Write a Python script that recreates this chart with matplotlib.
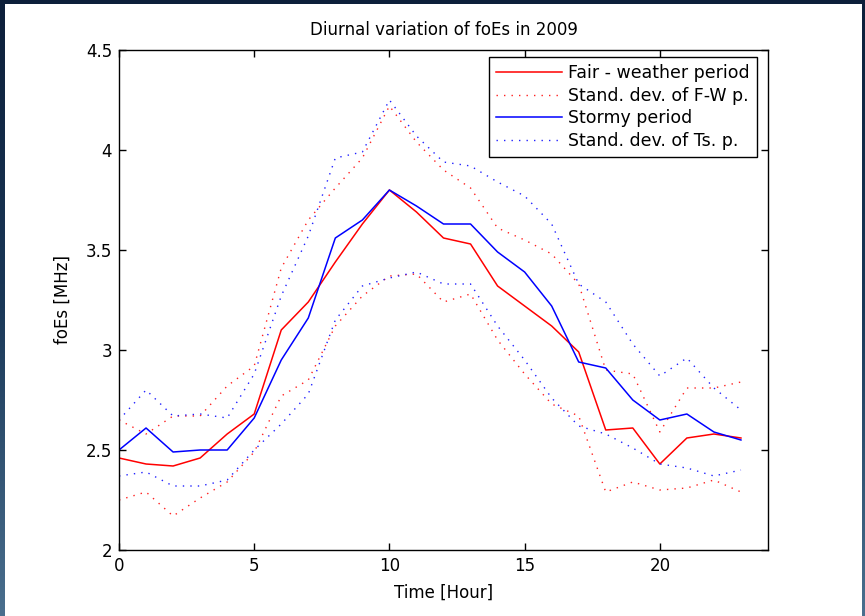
import matplotlib
matplotlib.use("Agg")
import matplotlib.pyplot as plt
import matplotlib.ticker as ticker
import numpy as np

#-------------------------------------------------------------------------------
# values (foEs in MHz, one value per hour)
hours = list(range(24))

fair_mean = [2.46, 2.43, 2.42, 2.46, 2.58, 2.68, 3.10, 3.24, 3.44, 3.63, 3.80, 3.69,
             3.56, 3.53, 3.32, 3.22, 3.12, 2.99, 2.60, 2.61, 2.43, 2.56, 2.58, 2.56]
fair_upper = [2.65, 2.58, 2.67, 2.67, 2.82, 2.92, 3.41, 3.65, 3.81, 3.96, 4.22, 4.04,
              3.90, 3.81, 3.61, 3.55, 3.48, 3.33, 2.90, 2.88, 2.59, 2.81, 2.81, 2.84]
fair_lower = [2.25, 2.29, 2.17, 2.26, 2.34, 2.49, 2.77, 2.85, 3.12, 3.27, 3.37, 3.38,
              3.24, 3.28, 3.05, 2.88, 2.73, 2.67, 2.29, 2.34, 2.30, 2.31, 2.35, 2.29]

storm_mean = [2.50, 2.61, 2.49, 2.50, 2.50, 2.66, 2.95, 3.16, 3.56, 3.65, 3.80, 3.72,
              3.63, 3.63, 3.49, 3.39, 3.22, 2.94, 2.91, 2.75, 2.65, 2.68, 2.59, 2.55]
storm_upper = [2.65, 2.80, 2.67, 2.68, 2.66, 2.88, 3.27, 3.57, 3.96, 3.99, 4.25, 4.07,
               3.94, 3.92, 3.84, 3.77, 3.63, 3.33, 3.24, 3.03, 2.87, 2.96, 2.81, 2.70]
storm_lower = [2.37, 2.39, 2.32, 2.32, 2.35, 2.50, 2.63, 2.78, 3.15, 3.32, 3.36, 3.39,
               3.33, 3.33, 3.12, 2.95, 2.76, 2.62, 2.58, 2.51, 2.43, 2.41, 2.37, 2.40]

labels = ['Fair - weather period', 'Stand. dev. of F-W p.',
          'Stormy period', 'Stand. dev. of Ts. p.']

xticks = [0, 5, 10, 15, 20]
yticks = [2, 2.5, 3, 3.5, 4, 4.5]

#-------------------------------------------------------------------------------
plt.rcParams['font.family'] = ['DejaVu Sans']

W, H = 865, 616
fig = plt.figure(figsize=(W / 100, H / 100), dpi=100)

# slide background: dark blue at the top, lighter towards the bottom
bg = fig.add_axes([0, 0, 1, 1], zorder=-10)
grad = np.linspace(0, 1, 256).reshape(-1, 1)
bg.imshow(grad, aspect='auto', origin='lower', extent=[0, 1, 0, 1],
          cmap=matplotlib.colors.LinearSegmentedColormap.from_list(
              'slide', ['#4a6f8e', '#1a3858', '#0d1f3a']))
bg.add_patch(plt.Rectangle((5 / W, 0), (862 - 5) / W, (H - 4) / H,
                           facecolor='white', edgecolor='none'))
bg.set_xlim(0, 1)
bg.set_ylim(0, 1)
bg.axis('off')

ax = fig.add_axes([119 / W, (H - 550) / H, (768 - 119) / W, (550 - 50) / H])

dots = (1, 4.4)
ax.plot(hours, fair_mean, color='#ff0000', lw=1.1, label=labels[0])
ax.plot(hours, fair_upper, color='#ff2020', lw=1.0, ls=(0, dots), label=labels[1])
ax.plot(hours, fair_lower, color='#ff2020', lw=1.0, ls=(0, dots))
ax.plot(hours, storm_mean, color='#0000ff', lw=1.1, label=labels[2])
ax.plot(hours, storm_upper, color='#2020ff', lw=1.0, ls=(0, dots), label=labels[3])
ax.plot(hours, storm_lower, color='#2020ff', lw=1.0, ls=(0, dots))

ax.set_xlim(0, 24)
ax.set_ylim(2, 4.5)
ax.xaxis.set_major_locator(ticker.FixedLocator(xticks))
ax.yaxis.set_major_locator(ticker.FixedLocator(yticks))
ax.xaxis.set_major_formatter(ticker.FormatStrFormatter('%g'))
ax.yaxis.set_major_formatter(ticker.FormatStrFormatter('%g'))
ax.tick_params(direction='in', length=5, width=1, top=True, right=True,
               labelsize=12, colors='black', pad=5)
for s in ax.spines.values():
    s.set_linewidth(1.0)

ax.set_title('Diurnal variation of foEs in 2009', fontsize=12, pad=11)
ax.set_xlabel('Time [Hour]', fontsize=12, labelpad=6)
ax.set_ylabel('foEs [MHz]', fontsize=12, labelpad=10)

leg = ax.legend(loc='upper right', bbox_to_anchor=(757 / W, 1 - 57 / H),
                bbox_transform=fig.transFigure, borderaxespad=0,
                fontsize=12.5, handlelength=3.8, handletextpad=0.35,
                labelspacing=0.27, borderpad=0.4, fancybox=False, framealpha=1,
                edgecolor='black')
leg.get_frame().set_linewidth(1.0)

plt.savefig('out.png', dpi=100)
